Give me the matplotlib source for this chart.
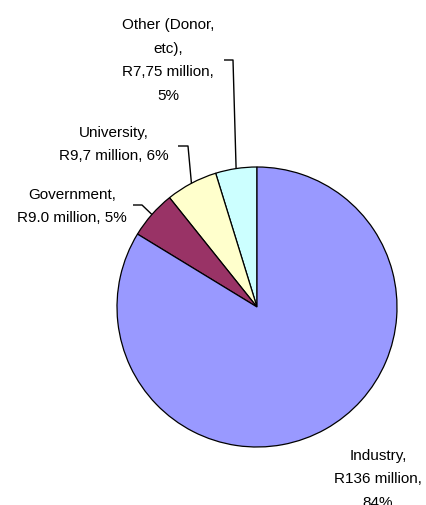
import numpy as np
import matplotlib
matplotlib.use("Agg")
import matplotlib.pyplot as plt

# Funding sources, drawn counter-clockwise from 12 o'clock
sources = ["Other (Donor, etc)", "University", "Government", "Industry"]
amounts = [7.75, 9.7, 9.0, 136.0]          # R million
amount_text = ["R7,75 million", "R9,7 million", "R9.0 million", "R136 million"]
percent_text = ["5%", "6%", "5%", "84%"]
colors = ["#CCFFFF", "#FFFFCC", "#993366", "#9999FF"]

W, H = 426, 506
fig = plt.figure(figsize=(W / 100, H / 100), dpi=100)
ax = fig.add_axes([0, 0, 1, 1])

cx, cy, r = 257, H - 308, 140
wedges, _ = ax.pie(amounts, colors=colors, startangle=90, counterclock=True,
                   center=(cx, cy), radius=r,
                   wedgeprops=dict(edgecolor="black", linewidth=0.9))
ax.set_xlim(0, W)
ax.set_ylim(0, H)
ax.set_aspect("equal")
ax.axis("off")

font = dict(family=["Liberation Sans", "DejaVu Sans"], fontsize=11, color="black")

# label text, split into lines
label_lines = [
    ["Other (Donor,", "etc),", amount_text[0] + ",", percent_text[0]],
    [sources[1] + ",", f"{amount_text[1]}, {percent_text[1]}"],
    [sources[2] + ",", f"{amount_text[2]}, {percent_text[2]}"],
    [sources[3] + ",", amount_text[3] + ",", percent_text[3]],
]
# label centre x and first-line y (measured from the top edge)
label_pos = [(168, 25), (114, 133), (72, 195), (378, 456)]
line_step = 23.5

for lines, (lx, ly) in zip(label_lines, label_pos):
    for k, line in enumerate(lines):
        ax.text(lx, H - (ly + k * line_step), line, ha="center", va="center", **font)

# leader lines: from the wedge's mid-angle on the rim, via an elbow, to the label
elbows = {0: [(233, 61), (224, 61)],
          1: [(188, 147), (178, 147)],
          2: [(142, 206), (133, 206)]}
for i, pts in elbows.items():
    w = wedges[i]
    mid = np.deg2rad((w.theta1 + w.theta2) / 2)
    x0, y0 = cx + r * np.cos(mid), cy + r * np.sin(mid)
    xs = [x0] + [p[0] for p in pts]
    ys = [y0] + [H - p[1] for p in pts]
    ax.plot(xs, ys, color="black", linewidth=1.0, solid_capstyle="butt")

fig.savefig("out.png", dpi=100, facecolor="white")
